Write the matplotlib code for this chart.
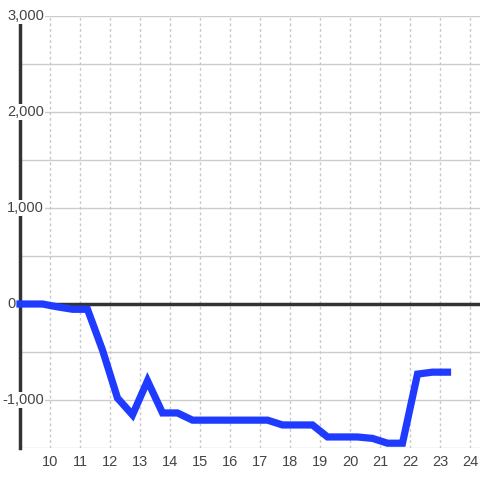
import matplotlib
matplotlib.use('Agg')
import matplotlib.pyplot as plt

plt.rcParams['font.family'] = ['Liberation Sans', 'DejaVu Sans']

# half-hour readings
hours = [9.0, 9.25, 9.75, 10.25, 10.75, 11.25, 11.75, 12.25, 12.75, 13.25,
         13.75, 14.25, 14.75, 15.25, 15.75, 16.25, 16.75, 17.25, 17.75, 18.25,
         18.75, 19.25, 19.75, 20.25, 20.75, 21.25, 21.75, 22.25, 22.75, 23.25]
values = [0, 0, 0, -30, -55, -55, -480, -980, -1155, -800,
          -1135, -1135, -1210, -1210, -1210, -1210, -1210, -1210, -1260, -1260,
          -1260, -1385, -1385, -1385, -1400, -1450, -1450, -730, -710, -710]

x_ticks = list(range(10, 25))
y_ticks = [-1000, 0, 1000, 2000, 3000]
y_labels = ['-1,000', '0', '1,000', '2,000', '3,000']

fig = plt.figure(figsize=(4.8, 4.8), dpi=100)
ax = fig.add_axes([20 / 480, 32 / 480, 460 / 480, 432 / 480])
ax.set_xlim(9, 9 + 460 / 30)
ax.set_ylim(-1500, 3000)

# grid
for yv in range(-1500, 3001, 500):
    ax.axhline(yv, color='#cccccc', lw=1, zorder=1)
for xv in x_ticks:
    ax.axvline(xv, color='#c8c8c8', lw=1, ls=(0, (2, 2)), zorder=1)
ax.axhline(0, color='#333333', lw=2.5, zorder=2)

for s in ['top', 'right', 'bottom']:
    ax.spines[s].set_visible(False)
ax.spines['left'].set_color('#333333')
ax.spines['left'].set_linewidth(2.5)
ax.spines['left'].set_zorder(3)

ax.plot(hours, values, color='#1f3bff', lw=5.2, solid_joinstyle='miter',
        solid_capstyle='projecting', zorder=5, clip_on=False)

ax.set_xticks(x_ticks)
ax.set_xticklabels([str(x) for x in x_ticks])
ax.tick_params(axis='x', length=0, pad=5, labelsize=10.5, labelcolor='#444444')
ax.set_yticks([])

for yv, lab in zip(y_ticks, y_labels):
    x0 = 8.4 if lab.startswith('-') else 8.57
    ax.text(x0, yv, lab, ha='left', va='center', fontsize=10.5, color='#444444',
            zorder=4, clip_on=False,
            bbox=dict(boxstyle='square,pad=0.1', facecolor='white', edgecolor='none'))

fig.savefig('out.png', dpi=100, facecolor='white')
